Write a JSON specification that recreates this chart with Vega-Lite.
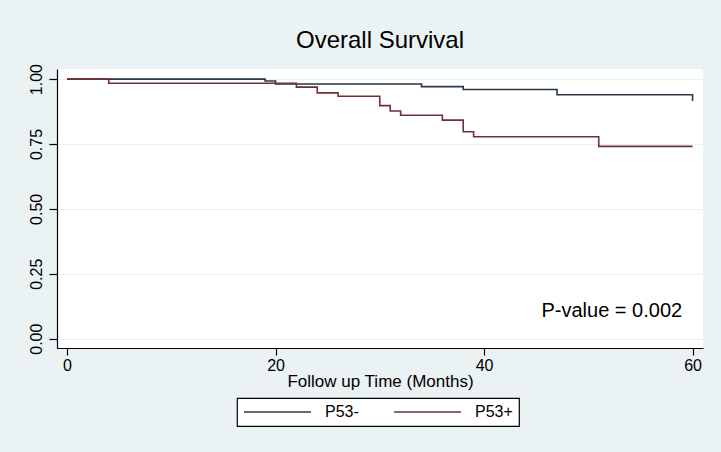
{
  "$schema": "https://vega.github.io/schema/vega-lite/v6.json",
  "width": 646,
  "height": 279,
  "autosize": {"type": "none"},
  "padding": {"left": 57, "top": 69, "right": 18, "bottom": 104},
  "background": "#eaf2f3",
  "config": {
    "view": {"fill": "white", "stroke": null},
    "font": "Liberation Sans",
    "axis": {"labelColor": "black", "titleColor": "black", "domainColor": "black", "tickColor": "black", "domainWidth": 1.2, "tickWidth": 1.2}
  },
  "title": {"text": "Overall Survival", "fontSize": 24, "fontWeight": "normal", "color": "black", "anchor": "middle", "frame": "group", "offset": 11},
  "datasets": {
    "km": [
      {"t": 0, "s": 1.0, "group": "P53-"},
      {"t": 19, "s": 0.993, "group": "P53-"},
      {"t": 20, "s": 0.981, "group": "P53-"},
      {"t": 34, "s": 0.971, "group": "P53-"},
      {"t": 38, "s": 0.96, "group": "P53-"},
      {"t": 47, "s": 0.94, "group": "P53-"},
      {"t": 60, "s": 0.916, "group": "P53-"},
      {"t": 0, "s": 1.0, "group": "P53+"},
      {"t": 4, "s": 0.984, "group": "P53+"},
      {"t": 22, "s": 0.969, "group": "P53+"},
      {"t": 24, "s": 0.947, "group": "P53+"},
      {"t": 26, "s": 0.934, "group": "P53+"},
      {"t": 30, "s": 0.898, "group": "P53+"},
      {"t": 31, "s": 0.877, "group": "P53+"},
      {"t": 32, "s": 0.861, "group": "P53+"},
      {"t": 36, "s": 0.842, "group": "P53+"},
      {"t": 38, "s": 0.797, "group": "P53+"},
      {"t": 39, "s": 0.778, "group": "P53+"},
      {"t": 51, "s": 0.741, "group": "P53+"},
      {"t": 60, "s": 0.741, "group": "P53+"}
    ],
    "note": [{"t": 59, "s": 0.084, "label": "P-value = 0.002"}]
  },
  "layer": [
    {
      "data": {"name": "km"},
      "mark": {"type": "line", "interpolate": "step-after", "strokeWidth": 1.6},
      "encoding": {
        "x": {
          "field": "t", "type": "quantitative",
          "scale": {"domain": [-0.96, 61], "nice": false, "zero": false},
          "axis": {"values": [0, 20, 40, 60], "grid": false, "tickSize": 7, "labelFontSize": 16, "labelPadding": 2, "title": "Follow up Time (Months)", "titleFontSize": 17, "titleFontWeight": "normal", "titlePadding": 0}
        },
        "y": {
          "field": "s", "type": "quantitative",
          "scale": {"domain": [-0.036, 1.039], "nice": false, "zero": false},
          "axis": {"values": [0, 0.25, 0.5, 0.75, 1], "format": ".2f", "grid": true, "gridColor": "#edf0f0", "gridWidth": 1, "tickSize": 8, "labelFontSize": 16, "labelAngle": -90, "labelAlign": "center", "labelBaseline": "bottom", "labelPadding": 5, "title": null}
        },
        "color": {
          "field": "group", "type": "nominal",
          "scale": {"domain": ["P53-", "P53+"], "range": ["#26384a", "#6e3036"]},
          "legend": {
            "orient": "none", "legendX": 180, "legendY": 329, "direction": "horizontal", "columns": 2,
            "title": null, "strokeColor": "black", "fillColor": "white", "padding": 6,
            "symbolType": "stroke", "symbolSize": 4489, "symbolStrokeWidth": 1.5, "clipHeight": 16,
            "labelFontSize": 16, "labelColor": "black", "labelOffset": 13, "columnPadding": 34,
            "encode": {"legend": {"update": {"strokeWidth": {"value": 1.2}}}}
          }
        }
      }
    },
    {
      "data": {"name": "note"},
      "mark": {"type": "text", "align": "right", "baseline": "alphabetic", "fontSize": 20, "color": "black"},
      "encoding": {
        "x": {"field": "t", "type": "quantitative"},
        "y": {"field": "s", "type": "quantitative"},
        "text": {"field": "label"}
      }
    }
  ]
}
